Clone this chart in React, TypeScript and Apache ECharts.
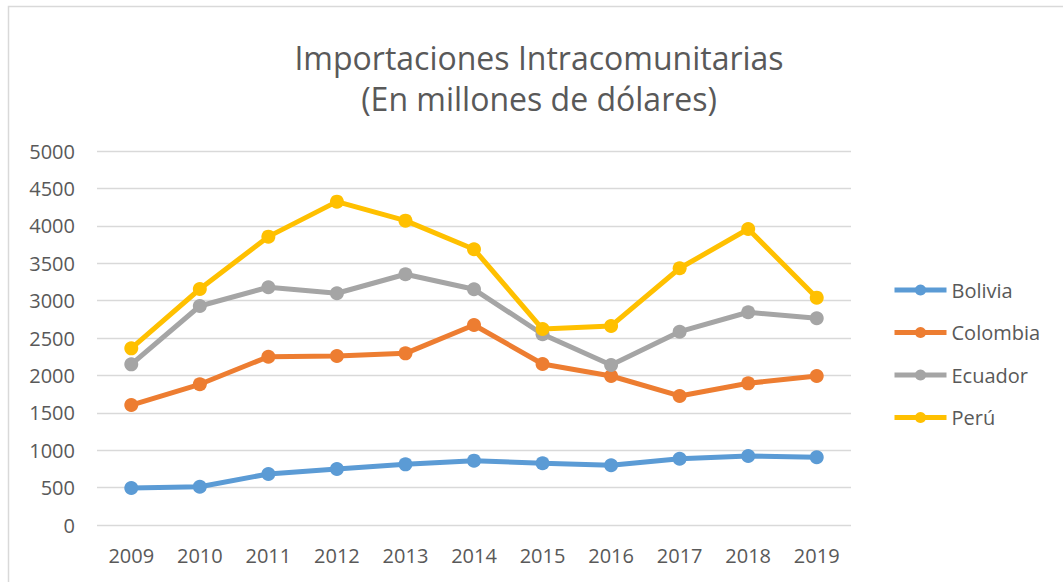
import React, { useEffect, useRef } from "react";
import * as echarts from "echarts";

const years = ["2009", "2010", "2011", "2012", "2013", "2014", "2015", "2016", "2017", "2018", "2019"];
const bolivia = [495, 512, 682, 749, 811, 860, 825, 798, 886, 922, 905];
const colombia = [1604, 1881, 2250, 2260, 2295, 2674, 2152, 1992, 1725, 1894, 1992];
const ecuador = [2148, 2928, 3178, 3098, 3352, 3151, 2550, 2139, 2584, 2844, 2764];
const peru = [2362, 3155, 3855, 4323, 4069, 3686, 2620, 2661, 3432, 3957, 3039];
const titleLines = ["Importaciones Intracomunitarias", "(En millones de dólares)"];

const FONT = "'Open Sans', sans-serif";
const TEXT = "#595959";

export default function App() {
  const ref = useRef<HTMLDivElement>(null);
  useEffect(() => {
    const chart = echarts.init(ref.current!, null, { renderer: "svg" });
    const mk = (name: string, data: number[], color: string) => ({
      name,
      type: "line",
      data,
      symbol: "circle",
      symbolSize: 14,
      lineStyle: { width: 5, color },
      itemStyle: { color },
    });
    chart.setOption({
      animation: false,
      textStyle: { fontFamily: FONT },
      graphic: [
        {
          type: "rect",
          shape: { x: 8.5, y: 6.5, width: 1100, height: 700 },
          style: { fill: "none", stroke: "#D9D9D9", lineWidth: 1.5 },
          silent: true,
        },
        {
          type: "text",
          x: 539,
          y: 57,
          style: { text: titleLines[0], fontSize: 32, fontFamily: FONT, fill: TEXT, textAlign: "center", textVerticalAlign: "middle" },
        },
        {
          type: "text",
          x: 539,
          y: 98,
          style: { text: titleLines[1], fontSize: 32, fontFamily: FONT, fill: TEXT, textAlign: "center", textVerticalAlign: "middle" },
        },
      ],
      grid: { left: 97, right: 212, top: 151, bottom: 57, containLabel: false },
      legend: {
        orient: "vertical",
        left: 887,
        top: 275,
        itemWidth: 52,
        itemHeight: 14,
        itemGap: 22.5,
        lineStyle: { width: 5 },
        textStyle: { fontSize: 20, color: TEXT, fontFamily: FONT },
        data: ["Bolivia", "Colombia", "Ecuador", "Perú"],
      },
      xAxis: {
        type: "category",
        data: years,
        boundaryGap: true,
        axisLine: { show: false },
        axisTick: { show: false },
        axisLabel: { fontSize: 20, color: TEXT, fontFamily: FONT, margin: 20 },
      },
      yAxis: {
        type: "value",
        min: 0,
        max: 5000,
        interval: 500,
        axisLine: { show: false },
        axisTick: { show: false },
        axisLabel: { fontSize: 20, color: TEXT, fontFamily: FONT, margin: 22, formatter: (v: number) => String(v) },
        splitLine: { lineStyle: { color: "#D9D9D9", width: 1.3 } },
      },
      series: [
        mk("Bolivia", bolivia, "#5B9BD5"),
        mk("Colombia", colombia, "#ED7D31"),
        mk("Ecuador", ecuador, "#A5A5A5"),
        mk("Perú", peru, "#FFC000"),
      ],
    });
    return () => chart.dispose();
  }, []);
  return <div ref={ref} style={{ position: "absolute", left: 0, top: 0, width: 1063, height: 582 }} />;
}
